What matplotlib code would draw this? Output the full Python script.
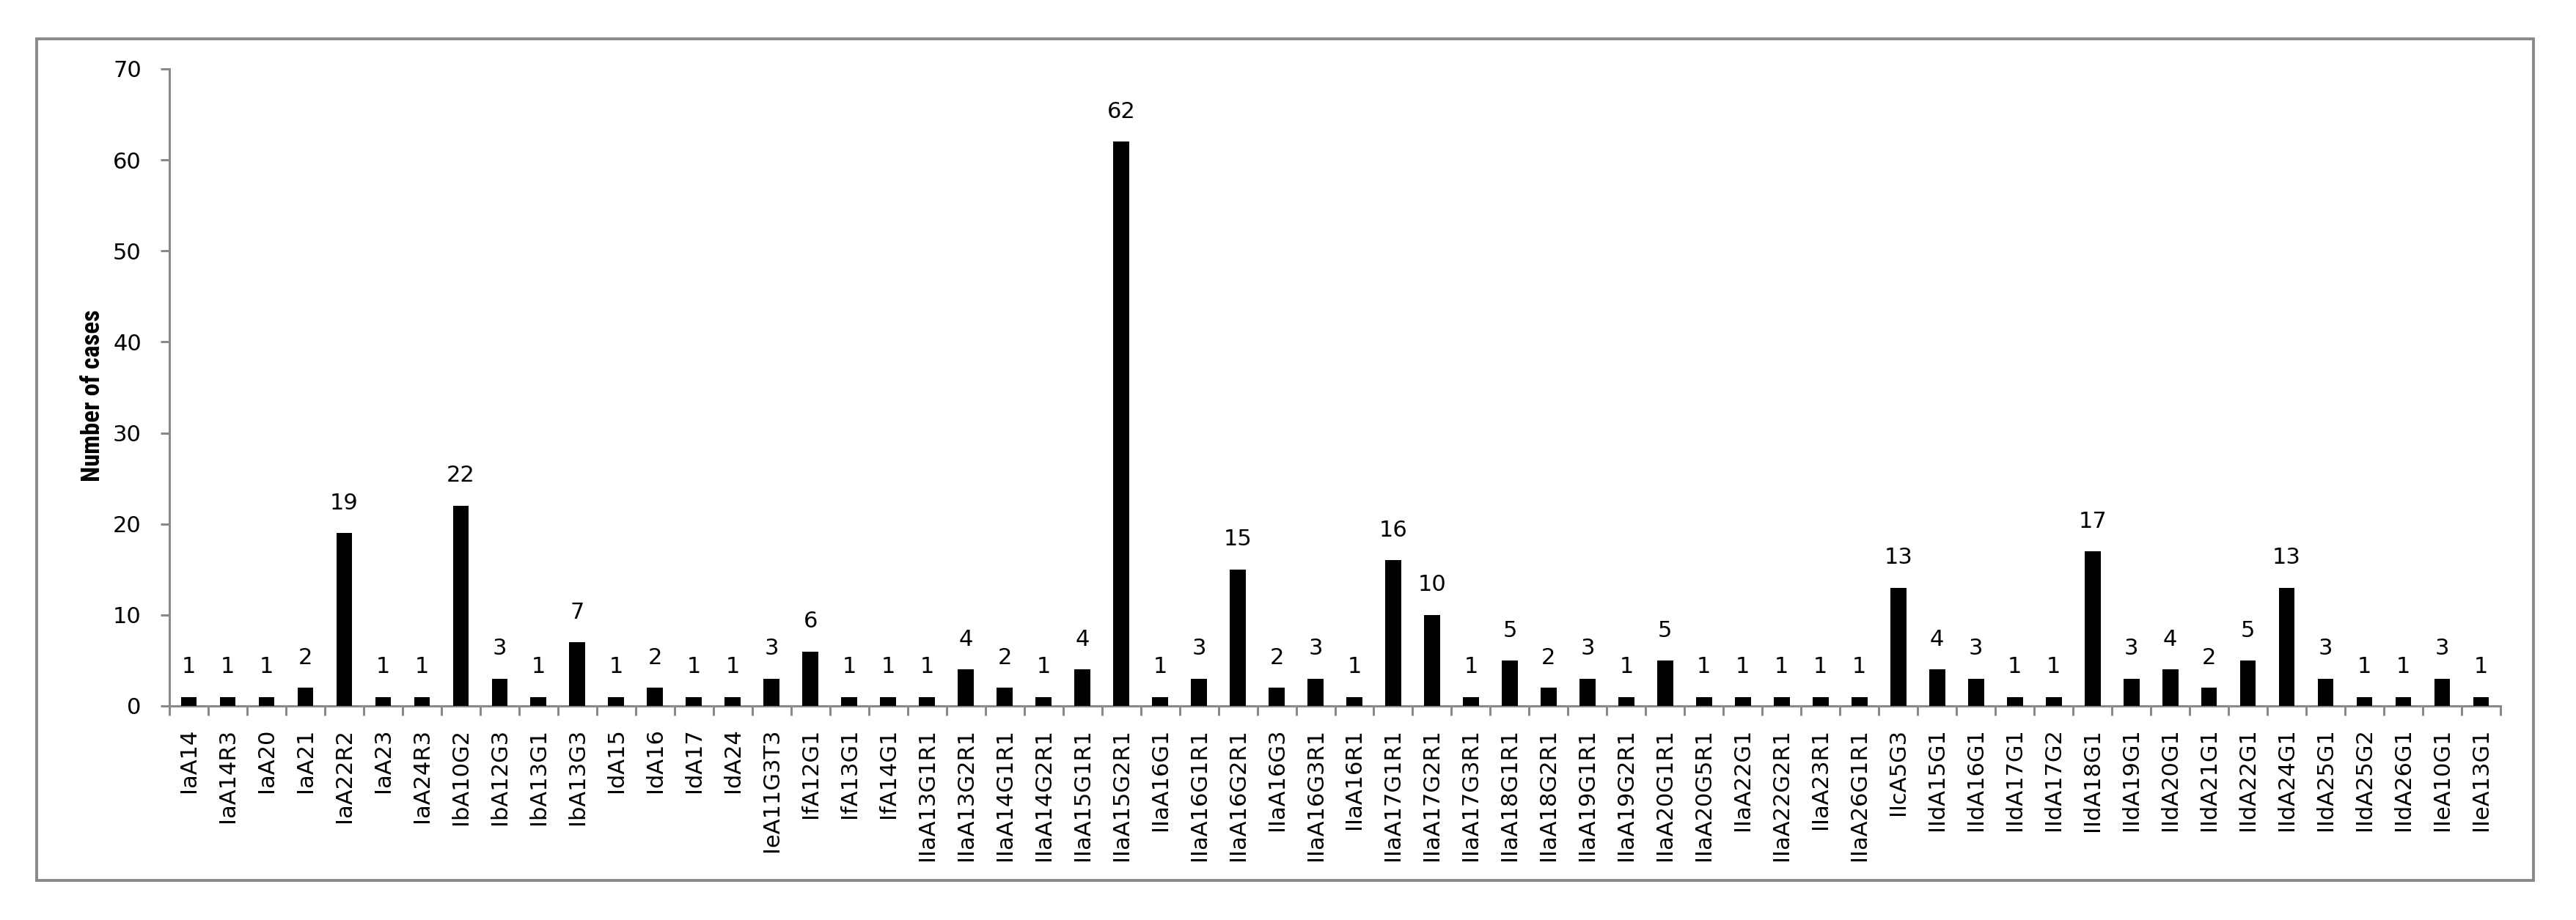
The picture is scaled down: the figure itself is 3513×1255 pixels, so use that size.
import numpy as np
import matplotlib.pyplot as plt
from matplotlib import font_manager as fm
from matplotlib.patches import Rectangle

# Subtype labels and number of cases
subtypes = [
    'IaA14', 'IaA14R3', 'IaA20', 'IaA21', 'IaA22R2', 'IaA23', 'IaA24R3',
    'IbA10G2', 'IbA12G3', 'IbA13G1', 'IbA13G3', 'IdA15', 'IdA16', 'IdA17',
    'IdA24', 'IeA11G3T3', 'IfA12G1', 'IfA13G1', 'IfA14G1', 'IIaA13G1R1',
    'IIaA13G2R1', 'IIaA14G1R1', 'IIaA14G2R1', 'IIaA15G1R1', 'IIaA15G2R1',
    'IIaA16G1', 'IIaA16G1R1', 'IIaA16G2R1', 'IIaA16G3', 'IIaA16G3R1',
    'IIaA16R1', 'IIaA17G1R1', 'IIaA17G2R1', 'IIaA17G3R1', 'IIaA18G1R1',
    'IIaA18G2R1', 'IIaA19G1R1', 'IIaA19G2R1', 'IIaA20G1R1', 'IIaA20G5R1',
    'IIaA22G1', 'IIaA22G2R1', 'IIaA23R1', 'IIaA26G1R1', 'IIcA5G3',
    'IIdA15G1', 'IIdA16G1', 'IIdA17G1', 'IIdA17G2', 'IIdA18G1', 'IIdA19G1',
    'IIdA20G1', 'IIdA21G1', 'IIdA22G1', 'IIdA24G1', 'IIdA25G1', 'IIdA25G2',
    'IIdA26G1', 'IIeA10G1', 'IIeA13G1',
]
cases = [
    1, 1, 1, 2, 19, 1, 1,
    22, 3, 1, 7, 1, 2, 1,
    1, 3, 6, 1, 1, 1,
    4, 2, 1, 4, 62,
    1, 3, 15, 2, 3,
    1, 16, 10, 1, 5,
    2, 3, 1, 5, 1,
    1, 1, 1, 1, 13,
    4, 3, 1, 1, 17, 3,
    4, 2, 5, 13, 3, 1,
    1, 3, 1,
]
y_ticks = [0, 10, 20, 30, 40, 50, 60, 70]

grey = '#898989'
fs = 22

# narrow bold font for the axis title if one is installed
installed = {f.name for f in fm.fontManager.ttflist}
narrow = next((n for n in ['Liberation Sans Narrow', 'Roboto Condensed',
                           'Open Sans Condensed', 'Liberation Sans']
               if n in installed), 'DejaVu Sans')

fig = plt.figure(figsize=(35.13, 12.55), dpi=100)
ax = fig.add_axes([0.06576, 0.23267, 0.90492, 0.69243])

x = np.arange(len(subtypes))
ax.bar(x, cases, width=0.41, color='black', zorder=3)

for xi, v in zip(x, cases):
    ax.annotate(str(v), (xi, v), xytext=(0, 19), textcoords='offset points',
                ha='center', va='bottom', fontsize=fs, color='black')

ax.set_xlim(-0.5, len(subtypes) - 0.5)
ax.set_ylim(0, 70)
ax.set_yticks(y_ticks)

# ticks between categories, labels at the centres
ax.set_xticks(np.arange(-0.5, len(subtypes), 1.0))
ax.set_xticklabels([])
ax.set_xticks(x, minor=True)
ax.set_xticklabels(subtypes, minor=True, rotation=90, fontsize=fs)
ax.tick_params(axis='x', which='major', length=9, width=2.2, color=grey)
ax.tick_params(axis='x', which='minor', length=0, pad=22)
ax.tick_params(axis='y', length=9, width=2.2, color=grey, pad=18.5, labelsize=fs)

for side in ['top', 'right']:
    ax.spines[side].set_visible(False)
for side in ['left', 'bottom']:
    ax.spines[side].set_color(grey)
    ax.spines[side].set_linewidth(2.2)

ylab = ax.set_ylabel('Number of cases', fontsize=25, fontweight='bold',
                     family=narrow, fontstretch='condensed')
ax.yaxis.set_label_coords(-0.0277, 0.487)

# shrink the title so it spans about 229 px like the original
fig.canvas.draw()
span = ylab.get_window_extent().height
if span > 235:
    ylab.set_fontsize(25 * 229 / span)

# outer chart border
fig.patches.append(Rectangle((0.01423, 0.04303), 0.9693, 0.91474,
                             transform=fig.transFigure, fill=False,
                             edgecolor=grey, linewidth=2.8))

fig.savefig('out.png', dpi=100)
